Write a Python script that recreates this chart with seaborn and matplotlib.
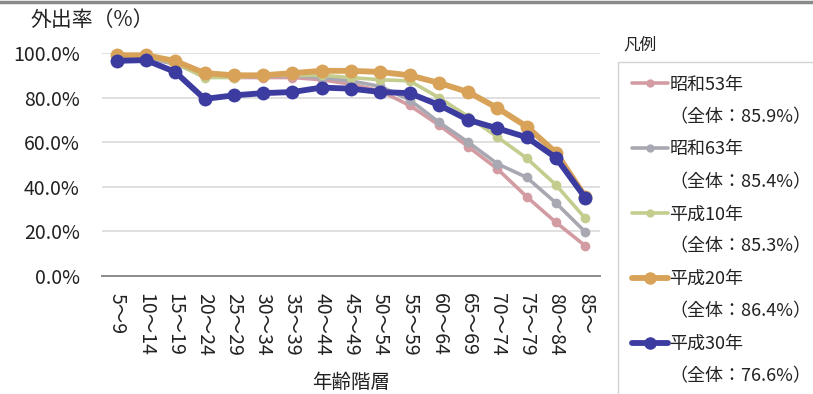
import matplotlib
matplotlib.use("Agg")
import matplotlib.pyplot as plt
from matplotlib.lines import Line2D
import pandas as pd
import seaborn as sns

age_groups = ["5～9", "10～14", "15～19", "20～24", "25～29", "30～34", "35～39",
              "40～44", "45～49", "50～54", "55～59", "60～64", "65～69", "70～74",
              "75～79", "80～84", "85～"]

series_names = ["昭和53年", "昭和63年", "平成10年", "平成20年", "平成30年"]
overall_rates = ["85.9%", "85.4%", "85.3%", "86.4%", "76.6%"]

s53 = [98.0, 98.0, 95.0, 90.0, 89.0, 89.0, 89.0, 88.0, 86.0, 83.0, 76.5, 67.7, 58.0, 48.0, 35.5, 24.0, 13.5]
s63 = [98.0, 98.0, 95.0, 90.0, 89.5, 89.5, 90.0, 89.0, 87.5, 85.0, 79.0, 69.0, 60.0, 50.3, 44.2, 32.7, 19.7]
h10 = [98.5, 98.5, 95.5, 89.0, 89.0, 90.0, 90.0, 90.0, 89.0, 88.0, 87.5, 80.0, 71.5, 62.3, 52.8, 40.8, 25.8]
h20 = [99.0, 99.0, 96.4, 91.0, 90.0, 90.0, 91.0, 92.0, 92.0, 91.5, 90.0, 86.6, 82.5, 75.3, 67.0, 55.3, 35.5]
h30 = [96.5, 96.8, 91.5, 79.4, 81.0, 82.0, 82.5, 84.5, 84.0, 82.5, 82.0, 76.7, 70.0, 66.2, 62.2, 53.0, 35.0]

series_values = [s53, s63, h10, h20, h30]
colors = ["#D39CA3", "#A8A8B3", "#C4CD8E", "#D8A258", "#3B3BA0"]
widths = [2.6, 2.6, 2.6, 4.2, 4.2]
msizes = [7, 7, 7, 10, 10]

JP = ["Noto Sans CJK JP", "DejaVu Sans"]

sns.set_theme(style="white")
plt.rcParams["font.family"] = JP

df = pd.concat(
    [pd.DataFrame({"年齢階層": age_groups, "外出率": vals, "年": name})
     for name, vals in zip(series_names, series_values)],
    ignore_index=True,
)

fig = plt.figure(figsize=(8.13, 3.94), dpi=100)
ax = fig.add_axes([102 / 813, 1 - 276 / 394, (600 - 102) / 813, (276 - 53) / 394])

for name, col, lw, ms in zip(series_names, colors, widths, msizes):
    sns.lineplot(
        data=df[df["年"] == name], x="年齢階層", y="外出率", ax=ax,
        color=col, linewidth=lw, marker="o", markersize=ms,
        markeredgewidth=0, sort=False, clip_on=False, legend=False,
    )

ax.set_xlim(-0.5, len(age_groups) - 0.5)
ax.set_ylim(0, 100)
ax.set_yticks([0, 20, 40, 60, 80, 100])
ax.set_yticklabels([f"{v:.1f}%" for v in [0, 20, 40, 60, 80, 100]], fontsize=14, color="#222222")
ax.set_xticks(range(len(age_groups)))
ax.set_xticklabels(age_groups, rotation=-90, fontsize=14, color="#222222",
                   va="top", ha="center")
ax.tick_params(axis="both", length=0)
ax.tick_params(axis="y", pad=16)
ax.tick_params(axis="x", pad=12)
ax.grid(axis="y", color="#DADADA", linewidth=1.2)
ax.set_axisbelow(True)
for side in ["top", "right", "left"]:
    ax.spines[side].set_visible(False)
ax.spines["bottom"].set_color("#8C8C8C")
ax.spines["bottom"].set_linewidth(1.4)

ax.set_xlabel("年齢階層", fontsize=14, color="#222222", labelpad=12)
ax.set_ylabel("")
fig.text(30 / 813, 1 - 20 / 394, "外出率（%）", fontsize=15, color="#222222",
         va="center", ha="left")

# legend: a line handle per series, with the overall rate on its own row below
handles, labels = [], []
for name, rate, col, lw, ms in zip(series_names, overall_rates, colors, widths, msizes):
    handles.append(Line2D([], [], color=col, linewidth=lw, marker="o", markersize=ms - 1,
                          markeredgewidth=0))
    labels.append(name)
    handles.append(Line2D([], [], color="none"))
    labels.append(f"（全体：{rate}）")

leg = fig.legend(handles, labels, loc="upper left",
                 bbox_to_anchor=(618 / 813, 1 - 62 / 394),
                 fontsize=13, frameon=True, fancybox=False,
                 handlelength=2.0, handletextpad=0.1, labelspacing=0.80,
                 borderpad=0.75, borderaxespad=0)
leg.get_frame().set_edgecolor("#C8C8C8")
leg.get_frame().set_linewidth(1.0)
for t in leg.get_texts():
    t.set_color("#222222")
fig.text(623 / 813, 1 - 45 / 394, "凡例", fontsize=12, color="#222222",
         va="center", ha="left")

# thin rule along the top edge
fig.add_artist(Line2D([0, 1], [1 - 1.5 / 394, 1 - 1.5 / 394], color="#8A8A8A",
                      linewidth=2.5, transform=fig.transFigure))

fig.savefig("out.png", dpi=100)
